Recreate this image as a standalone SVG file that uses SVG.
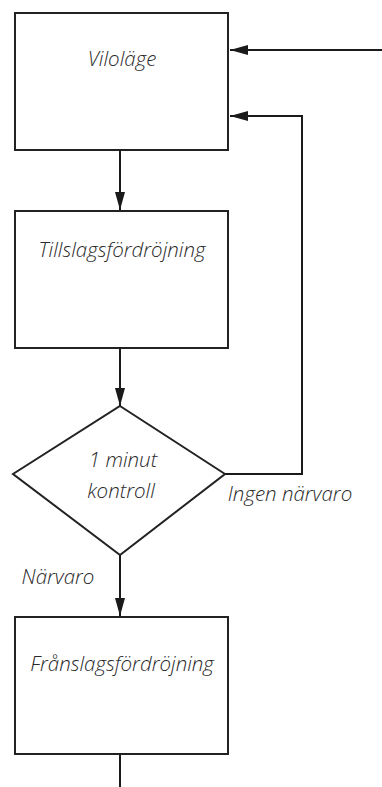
<svg xmlns="http://www.w3.org/2000/svg" width="382" height="787" viewBox="0 0 382 787">
<style>
.node{fill:#fff;stroke:#222;stroke-width:2}
.t{font-family:"Open Sans","Noto Sans","DejaVu Sans",sans-serif;font-style:italic;font-weight:300;font-size:20.5px;fill:#2a2a2a;text-anchor:middle}
.c{fill:none;stroke:#1a1a1a;stroke-width:2}
</style>
<defs>
<marker id="ah" viewBox="0 0 18 10" refX="18" refY="5" markerWidth="18" markerHeight="10" markerUnits="userSpaceOnUse" orient="auto">
<path d="M0,0 L18,5 L0,10 Z" fill="#1a1a1a"/>
</marker>
</defs>
<rect width="382" height="787" fill="#fff"/>
<g id="connectors">
<line class="c" x1="382" y1="50" x2="230" y2="50" marker-end="url(#ah)"/>
<polyline class="c" points="225,474 302,474 302,116 230,116" marker-end="url(#ah)"/>
<line class="c" x1="120" y1="150" x2="120" y2="210" marker-end="url(#ah)"/>
<line class="c" x1="120" y1="348" x2="120" y2="406" marker-end="url(#ah)"/>
<line class="c" x1="120" y1="555" x2="120" y2="616" marker-end="url(#ah)"/>
<line class="c" x1="120" y1="754" x2="120" y2="787"/>
</g>
<g id="n-vilolage">
<rect class="node" x="15" y="13" width="213" height="137"/>
<text class="t" x="122" y="66">Viloläge</text>
</g>
<g id="n-tillslag">
<rect class="node" x="15" y="211" width="213" height="137"/>
<text class="t" x="122" y="257">Tillslagsfördröjning</text>
</g>
<g id="n-kontroll">
<polygon class="node" points="120,406 225,474 120,555 13,474"/>
<text class="t" x="123" y="467">1 minut</text>
<text class="t" x="121" y="498">kontroll</text>
</g>
<g id="n-franslag">
<rect class="node" x="15" y="617" width="213" height="137"/>
<text class="t" x="122" y="671">Frånslagsfördröjning</text>
</g>
<g id="labels">
<text class="t" x="290" y="501">Ingen närvaro</text>
<text class="t" x="58" y="584">Närvaro</text>
</g>
</svg>
